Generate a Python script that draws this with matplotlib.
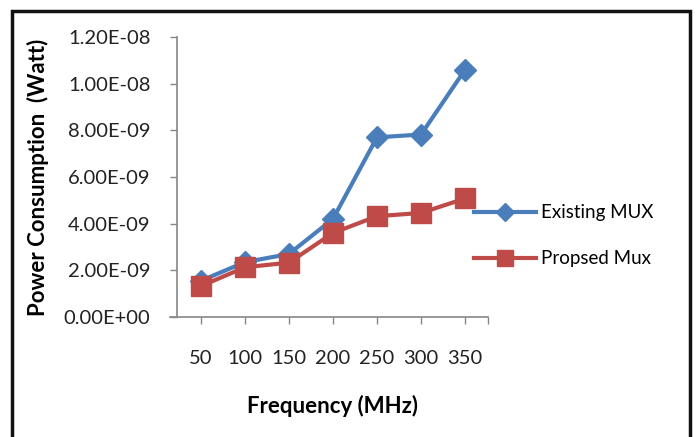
import matplotlib
matplotlib.use("Agg")
import matplotlib.pyplot as plt
from matplotlib.patches import Rectangle

# === Data ===
freqs = [50, 100, 150, 200, 250, 300, 350]
existing_mux = [1.55e-09, 2.35e-09, 2.7e-09, 4.2e-09, 7.7e-09, 7.82e-09, 1.06e-08]
proposed_mux = [1.32e-09, 2.13e-09, 2.33e-09, 3.6e-09, 4.32e-09, 4.46e-09, 5.08e-09]
y_ticks = [0, 2e-09, 4e-09, 6e-09, 8e-09, 1e-08, 1.2e-08]
y_labels = ["0.00E+00", "2.00E-09", "4.00E-09", "6.00E-09", "8.00E-09", "1.00E-08", "1.20E-08"]

blue = "#4A7EBB"
red = "#BE4B48"
axis_grey = "#868686"

plt.rcParams['font.family'] = ['Lato', 'DejaVu Sans']

W, H = 697, 437
fig = plt.figure(figsize=(W / 100, H / 100), dpi=100)
ax = fig.add_axes([177 / W, 1 - 317 / H, (488 - 177) / W, (317 - 37) / H])

ax.plot(freqs, existing_mux, color=blue, lw=3, marker="D", ms=11,
        label="Existing MUX", zorder=3)
ax.plot(freqs, proposed_mux, color=red, lw=3, marker="s", ms=14,
        label="Propsed Mux", zorder=4)

ax.set_xlim(23, 376)
ax.set_ylim(0, 1.2e-08)
ax.set_yticks(y_ticks)
ax.set_yticklabels(y_labels)
ax.set_xticks(freqs)
ax.set_xticklabels([str(f) for f in freqs])
ax.set_xticks([376], minor=True)
ax.tick_params(axis="x", which="both", direction="out", length=5, width=1,
               color=axis_grey, pad=19, labelsize=14.5, labelcolor="#222222")
ax.tick_params(axis="y", direction="out", length=5, width=1,
               color=axis_grey, pad=14, labelsize=14.5, labelcolor="#222222")

for side in ["top", "right"]:
    ax.spines[side].set_visible(False)
for side in ["left", "bottom"]:
    ax.spines[side].set_color(axis_grey)
    ax.spines[side].set_linewidth(1.2)
# x axis line runs a little past the y axis, as in the original
ax.spines["bottom"].set_bounds(15, 376)
ax.spines["bottom"].set_clip_on(False)

ax.set_xlabel("Frequency (MHz)", fontsize=16, fontweight="bold", labelpad=20)
ax.set_ylabel("Power Consumption  (Watt)", fontsize=16, fontweight="bold", labelpad=11)

leg = ax.legend(loc="center left", bbox_to_anchor=(0.9, 0.29), frameon=False,
                fontsize=13.5, handlelength=3.3, labelspacing=1.55, handletextpad=0.3,
                markerscale=0.8)

# outer frame
fig.patches.append(Rectangle((12 / W, -0.1), (690 - 12) / W, 1.1 - 11 / H,
                             transform=fig.transFigure, fill=False,
                             edgecolor="#111111", lw=2.5))

fig.savefig("out.png", dpi=100)
